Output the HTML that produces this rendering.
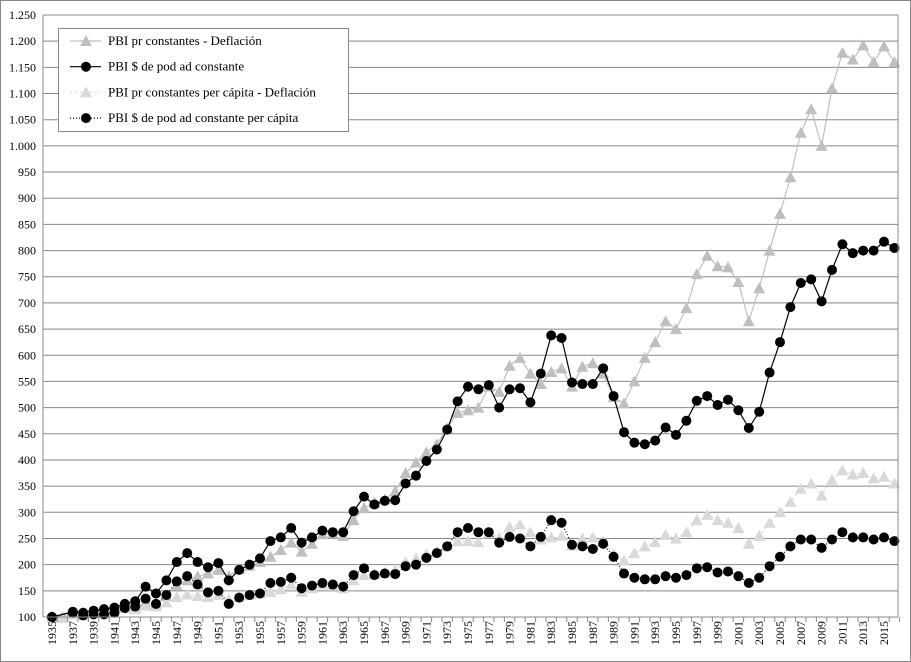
<!DOCTYPE html>
<html><head><meta charset="utf-8"><style>
body{margin:0;background:#fff}
svg{display:block;font-family:"Liberation Serif",serif}
</style></head><body>
<svg id="chart" width="911" height="662">
<rect x="0.5" y="0.5" width="910" height="661" fill="#fff" stroke="#888"/>
<g id="grid"></g><g id="series"></g><g id="axes"></g>
<g id="legend">
<rect x="58.5" y="28.5" width="290" height="103" fill="#fff" stroke="#888"/>
</g>
</svg>
<script>
const years = [];
for (let y = 1935; y <= 2016; y++) years.push(y);
const pbiConst = [100,100,107,108,112,112,117,120,118,128,125,140,160,170,178,183,190,178,192,198,205,215,228,242,225,240,258,260,255,285,308,318,325,340,375,395,415,430,460,490,495,500,540,530,580,595,565,545,568,575,540,578,585,565,520,508,550,595,625,665,650,690,755,790,770,768,740,665,728,800,870,940,1025,1070,1000,1110,1178,1165,1192,1160,1190,1160];
const pbiPod = [100,null,110,108,112,115,118,125,130,158,145,170,205,222,205,195,203,170,190,200,212,245,252,270,242,252,265,262,262,302,330,315,322,323,355,370,398,420,458,512,540,535,543,500,535,537,510,565,638,633,548,545,545,575,522,453,433,430,437,462,448,475,513,522,505,515,495,461,492,567,625,692,738,745,703,763,812,795,800,800,817,805];
const pbiConstPc = [100,98,105,103,110,108,112,118,115,122,120,128,138,143,140,138,142,133,138,142,145,148,153,162,148,155,162,160,155,170,180,182,185,190,205,212,220,225,235,245,245,243,260,252,272,277,262,248,252,255,236,250,252,245,220,208,222,235,243,257,250,262,285,295,285,280,270,240,255,280,300,320,345,355,332,362,380,372,375,365,368,355];
const pbiPodPc = [100,null,108,103,105,105,108,117,120,135,125,142,168,178,162,147,150,125,137,142,145,165,167,175,155,160,165,162,158,180,193,180,183,182,197,200,213,222,235,262,270,262,262,242,253,250,235,253,285,280,238,235,230,240,215,183,175,172,172,178,175,180,193,195,185,187,178,165,175,197,215,235,248,248,232,248,262,252,252,248,252,245];
const yTicks = [];
for (let v = 100; v <= 1250; v += 50) yTicks.push(v);

const NS = "http://www.w3.org/2000/svg";
const L = 43, R = 898, T = 15, B = 617;
const X = yr => 52 + (yr - 1935) * 10.4;
const Y = v => B - (v - 100) / 1150 * (B - T);
function mk(tag, attrs, parent) {
  const e = document.createElementNS(NS, tag);
  for (const k in attrs) e.setAttribute(k, attrs[k]);
  parent.appendChild(e); return e;
}
const grid = document.getElementById('grid'), axes = document.getElementById('axes'), ser = document.getElementById('series');
yTicks.forEach(v => {
  const l = mk('line', {x1: L, x2: R, y1: Y(v), y2: Y(v), stroke: '#888', 'stroke-width': 1}, grid);
  
  
  const t = mk('text', {x: 36, y: Y(v) + 4, 'text-anchor': 'end', 'font-size': 12, fill: '#000'}, axes);
  t.textContent = v.toLocaleString('de-DE');
  
  
});
mk('line', {x1: L, x2: L, y1: T, y2: B, stroke: '#888'}, axes);
mk('line', {x1: R, x2: R, y1: T, y2: B, stroke: '#888'}, axes);
mk('line', {x1: L, x2: R, y1: B, y2: B, stroke: '#888'}, axes);
years.forEach((yr, i) => {
  const tx = X(yr) + 5.2;
  mk('line', {x1: tx, x2: tx, y1: B, y2: B + 5, stroke: '#888'}, axes);
  if (yr % 2 === 1) {
    const t = mk('text', {x: 0, y: 0, 'text-anchor': 'end', 'font-size': 12, transform: `translate(${X(yr) + 4},${B + 4}) rotate(-90)`}, axes);
    t.textContent = yr;
    
    
  }
});
function tri(x, y, col, parent) {
  return mk('polygon', {points: `${x},${y-6} ${x-6},${y+5} ${x+6},${y+5}`, fill: col}, parent);
}
function draw(data, lineCol, dash, marker, mCol, name) {
  const g = mk('g', {}, ser);
  
  
  const pts = [];
  data.forEach((v, i) => { if (v !== null) pts.push([X(years[i]), Y(v)]); });
  const p = mk('polyline', {points: pts.map(p => p.join(',')).join(' '), fill: 'none', stroke: lineCol, 'stroke-width': 1.2}, g);
  if (dash) p.setAttribute('stroke-dasharray', dash);
  pts.forEach(([x, y]) => {
    const m = marker === 'tri' ? tri(x, y, mCol, g) : mk('circle', {cx: x, cy: y, r: 5, fill: mCol}, g);
    
    
  });
}
draw(pbiConst, '#bfbfbf', null, 'tri', '#bfbfbf', 'series-pbi-constantes');
draw(pbiConstPc, '#d9d9d9', '2,3', 'tri', '#d9d9d9', 'series-pbi-constantes-per-capita');
draw(pbiPodPc, '#000', '1,2', 'circ', '#000', 'series-pbi-poder-adq-per-capita');
draw(pbiPod, '#000', null, 'circ', '#000', 'series-pbi-poder-adq');
const lg = document.getElementById('legend');
const items = [['PBI pr constantes - Deflación', '#bfbfbf', null, 'tri'], ['PBI $ de pod ad constante', '#000', null, 'circ'], ['PBI pr constantes per cápita - Deflación', '#d9d9d9', '2,3', 'tri'], ['PBI $ de pod ad constante per cápita', '#000', '1,2', 'circ']];
items.forEach((it, i) => {
  const y = 41 + i * 25.7;
  const g = mk('g', {}, lg);
  
  
  const l = mk('line', {x1: 70, x2: 101, y1: y, y2: y, stroke: it[1], 'stroke-width': 1.2}, g);
  if (it[2]) l.setAttribute('stroke-dasharray', it[2]);
  if (it[3] === 'tri') tri(86, y, it[1], g); else mk('circle', {cx: 86, cy: y, r: 5, fill: it[1]}, g);
  const t = mk('text', {x: 108, y: y + 4, 'font-size': 13}, g);
  t.textContent = it[0];
});
</script>
</body></html>
